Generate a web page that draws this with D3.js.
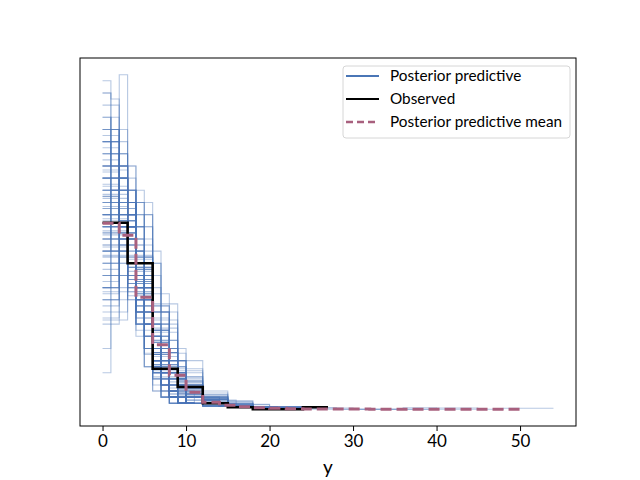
<!DOCTYPE html>
<html lang="en">
<head>
<meta charset="utf-8">
<title>Posterior predictive check</title>
<script src="https://d3js.org/d3.v7.min.js"></script>
<style>
    body { margin: 0; background: #fff; }
    svg { font-family: Lato, "Open Sans", sans-serif; }
    .pp { fill: none; stroke: #4a76b6; stroke-width: 1.1; stroke-opacity: 0.4; }
    .obs { fill: none; stroke: #000; stroke-width: 2.6; }
    .mean { fill: none; stroke: #a8607e; stroke-width: 3; stroke-dasharray: 11 5; }
</style>
</head>
<body>
<svg width="640" height="480"></svg>
<script>
// observed histogram (counts, bins of width 3 starting at 0)
var obsWidth = 3;
var obsCounts = [92, 72, 20, 11, 3, 1, 0, 0, 1];

// posterior predictive draws, counts per bin, grouped by bin width
var ppCountsW1 = [
    [52, 51, 42, 30, 12, 7, 3, 2, 1],
    [46, 44, 55, 28, 14, 7, 3, 2, 1],
    [40, 42, 38, 34, 20, 12, 7, 4, 2, 1],
    [36, 38, 40, 32, 22, 14, 9, 5, 2, 1, 1],
    [44, 40, 36, 30, 20, 14, 8, 5, 2, 1],
    [30, 34, 38, 36, 26, 16, 10, 6, 3, 1],
    [48, 46, 38, 28, 18, 10, 6, 3, 2, 1],
    [34, 36, 34, 30, 24, 18, 12, 6, 3, 2, 1],
    [38, 44, 40, 32, 20, 12, 7, 4, 2, 1],
    [28, 30, 36, 34, 28, 20, 12, 7, 3, 1, 1],
    [42, 38, 34, 30, 22, 14, 9, 6, 3, 1, 1],
    [50, 42, 36, 28, 18, 12, 7, 4, 2, 1],
    [32, 40, 42, 34, 22, 14, 8, 4, 2, 1, 1],
    [26, 32, 34, 38, 30, 18, 10, 6, 3, 2, 1],
    [40, 36, 40, 34, 22, 12, 8, 4, 2, 1, 1],
    [36, 34, 32, 30, 26, 18, 12, 6, 3, 2, 1],
    [44, 48, 40, 30, 16, 10, 6, 3, 2, 1],
    [30, 36, 40, 40, 24, 14, 8, 4, 2, 1, 1],
    [38, 36, 38, 36, 22, 14, 8, 4, 2, 1, 1],
    [24, 30, 36, 36, 32, 20, 12, 6, 2, 1, 1],
    [46, 42, 38, 30, 18, 12, 7, 4, 2, 1],
    [34, 38, 36, 34, 26, 16, 8, 4, 2, 1, 1],
    [22, 26, 30, 32, 34, 30, 14, 6, 3, 2, 1],
    [20, 24, 28, 30, 30, 32, 22, 8, 3, 2, 1],
    [18, 22, 26, 30, 30, 28, 26, 12, 4, 2, 1, 1],
    [6, 14, 22, 30, 36, 32, 24, 16, 10, 5, 3, 1, 1],
    [54, 50, 40, 28, 14, 7, 4, 2, 1],
    [42, 46, 44, 32, 18, 10, 5, 2, 1],
    [28, 34, 30, 32, 30, 22, 12, 6, 3, 2, 1],
    [36, 30, 34, 34, 28, 20, 10, 5, 2, 1],
    [48, 40, 42, 32, 18, 10, 5, 3, 1, 1],
    [20, 28, 34, 36, 30, 24, 14, 8, 3, 2, 1],
    [40, 44, 36, 32, 22, 12, 7, 4, 2, 1],
    [32, 28, 36, 40, 28, 18, 10, 5, 2, 1],
    [44, 36, 30, 34, 24, 14, 9, 5, 2, 1, 1],
    [14, 20, 28, 34, 34, 30, 20, 10, 6, 2, 1, 1],
    [52, 46, 38, 30, 16, 9, 5, 2, 1, 1],
    [26, 36, 38, 36, 26, 18, 10, 6, 2, 1, 1],
    [38, 40, 46, 34, 20, 10, 6, 3, 2, 1],
    [30, 26, 32, 34, 32, 24, 12, 6, 2, 1, 1],
    [10, 18, 26, 32, 34, 34, 24, 12, 6, 3, 1]
];
var ppCountsW2 = [
    [70, 62, 34, 18, 8, 4, 2, 1, 1],
    [64, 60, 38, 20, 10, 4, 2, 1, 1],
    [76, 58, 32, 18, 8, 4, 2, 1, 1],
    [58, 62, 40, 22, 10, 4, 2, 1, 1],
    [66, 56, 36, 22, 10, 5, 3, 1, 1],
    [54, 58, 42, 26, 12, 5, 2, 1],
    [80, 60, 30, 16, 8, 3, 2, 1],
    [62, 64, 38, 20, 9, 4, 2, 1],
    [50, 56, 44, 28, 12, 6, 2, 1, 1],
    [72, 56, 34, 20, 10, 4, 2, 1, 1],
    [60, 52, 40, 26, 12, 6, 2, 1, 1],
    [68, 64, 34, 18, 8, 4, 2, 1, 1],
    [56, 60, 40, 24, 12, 4, 2, 1, 1],
    [74, 62, 32, 16, 8, 4, 2, 1, 1],
    [48, 54, 46, 28, 14, 6, 2, 1, 1],
    [64, 58, 38, 22, 10, 4, 2, 1, 1],
    [70, 66, 32, 16, 8, 4, 2, 1, 1],
    [58, 54, 42, 24, 12, 5, 3, 1, 1],
    [66, 60, 36, 20, 10, 4, 2, 1, 1],
    [52, 60, 42, 26, 12, 4, 2, 1, 1],
    [90, 58, 28, 14, 6, 2, 1, 1],
    [36, 50, 50, 34, 16, 8, 4, 1, 1],
    [84, 62, 30, 14, 6, 2, 1, 1],
    [42, 56, 48, 30, 14, 6, 2, 1, 1],
    [78, 66, 32, 14, 6, 2, 1, 1],
    [30, 44, 52, 38, 20, 9, 4, 2, 1],
    [86, 56, 32, 14, 7, 3, 1, 1],
    [46, 62, 46, 26, 12, 5, 2, 1],
    [40, 48, 50, 34, 16, 7, 3, 1, 1],
    [88, 64, 28, 12, 5, 2, 1],
    [34, 52, 54, 32, 16, 7, 3, 1, 1],
    [82, 60, 32, 16, 6, 2, 1, 1],
    [44, 50, 46, 32, 16, 7, 3, 1, 1],
    [92, 60, 28, 12, 5, 2, 1],
    [38, 54, 50, 32, 14, 7, 3, 1, 1]
];
var ppCountsW3 = [
    [92, 64, 24, 10, 5, 2, 1, 1, 1],
    [84, 66, 28, 12, 5, 2, 1, 1, 1],
    [100, 60, 22, 10, 4, 2, 1, 1],
    [78, 70, 30, 12, 5, 2, 1, 1, 1],
    [88, 62, 28, 12, 5, 3, 1, 1],
    [96, 58, 26, 10, 5, 2, 1, 1, 1],
    [72, 68, 34, 14, 6, 3, 1, 1, 1],
    [86, 64, 28, 12, 5, 2, 1, 1, 1],
    [94, 62, 24, 11, 5, 2, 1, 1],
    [80, 66, 30, 13, 6, 2, 1, 1, 1],
    [90, 60, 28, 12, 5, 2, 1, 1, 1],
    [76, 64, 34, 14, 6, 3, 1, 1, 1],
    [120, 54, 16, 6, 2, 1, 1],
    [54, 76, 42, 16, 7, 3, 1, 1],
    [110, 58, 20, 7, 3, 1, 1],
    [60, 74, 40, 16, 6, 2, 1, 1],
    [104, 62, 22, 8, 2, 1, 1],
    [48, 70, 48, 20, 8, 4, 1, 1],
    [114, 56, 18, 8, 2, 1, 1],
    [66, 72, 38, 15, 6, 2, 1],
    [44, 66, 52, 24, 9, 3, 1, 1],
    [106, 60, 22, 8, 2, 1, 1],
    [58, 70, 44, 18, 6, 2, 1, 1],
    [118, 54, 18, 6, 2, 1, 1]
];
var ppWideWidths = [4, 5, 6];
var ppCountsWide = [
    [120, 52, 16, 6, 3, 1, 1, 0, 0, 1],
    [135, 46, 12, 4, 1, 1, 0, 0, 1],
    [151, 38, 8, 2, 0, 0, 0, 0, 1]
];

// posterior predictive mean (density, bins of width 2 from 0 to 50)
var ppMeanWidth = 2;
var ppMeanDensity = [0.153, 0.143, 0.092, 0.053, 0.028, 0.014, 0.0058, 0.0033, 0.0021,
    0.0012, 0.0008, 0.0005, 0.0003, 0.0003, 0.0002, 0.0002, 0.0001, 0.0001, 0.0001,
    0.0001, 0.0001, 0.0001, 0.0001, 0.0001, 0.0001];

var xTicks = [0, 10, 20, 30, 40, 50];

// turn a histogram into step points: (edge, height) as matplotlib steps-pre
function stepPoints(dens, w) {
    var pts = [[0, dens[0]]];
    dens.forEach(function(d, i) { pts.push([(i + 1) * w, d]); });
    return pts;
}
function toDensity(counts, w) {
    var n = d3.sum(counts);
    return counts.map(c => c / (n * w));
}

var ppLines = [];
ppCountsW1.forEach(c => ppLines.push(stepPoints(toDensity(c, 1), 1)));
ppCountsW2.forEach(c => ppLines.push(stepPoints(toDensity(c, 2), 2)));
ppCountsW3.forEach(c => ppLines.push(stepPoints(toDensity(c, 3), 3)));
ppCountsWide.forEach((c, i) => ppLines.push(stepPoints(toDensity(c, ppWideWidths[i]), ppWideWidths[i])));
var obsLine = stepPoints(toDensity(obsCounts, obsWidth), obsWidth);
var meanLine = stepPoints(ppMeanDensity, ppMeanWidth);

var all = ppLines.concat([obsLine, meanLine]).flat();
var xe = d3.extent(all, d => d[0]), ye = d3.extent(all, d => d[1]);
var xp = (xe[1] - xe[0]) * 0.05, yp = (ye[1] - ye[0]) * 0.05;

var plotLeft = 80, plotRight = 576, plotTop = 58, plotBottom = 426;
var x = d3.scaleLinear().domain([xe[0] - xp, xe[1] + xp]).range([plotLeft, plotRight]);
var y = d3.scaleLinear().domain([ye[0] - yp, ye[1] + yp]).range([plotBottom, plotTop]);

var svg = d3.select("svg");
var line = d3.line().x(d => x(d[0])).y(d => y(d[1])).curve(d3.curveStepBefore);

var g = svg.append("g");
g.selectAll(".pp").data(ppLines).enter().append("path").attr("class", "pp").attr("d", line);
g.append("path").attr("class", "obs").attr("d", line(obsLine));
g.append("path").attr("class", "mean").attr("d", line(meanLine));

// frame
svg.append("rect").attr("x", plotLeft).attr("y", plotTop)
    .attr("width", plotRight - plotLeft).attr("height", plotBottom - plotTop)
    .attr("fill", "none").attr("stroke", "#000").attr("stroke-width", 1);

var xAxis = svg.append("g").attr("transform", "translate(0," + plotBottom + ")")
    .call(d3.axisBottom(x).tickValues(xTicks).tickFormat(d3.format("d")).tickSize(5).tickPadding(4));
xAxis.select(".domain").remove();
xAxis.selectAll("text").attr("font-size", 17).attr("fill", "#000").attr("font-family", "Lato, sans-serif");
xAxis.selectAll("line").attr("stroke", "#000");

svg.append("text").attr("x", (plotLeft + plotRight) / 2).attr("y", 474).attr("text-anchor", "middle")
    .attr("font-size", 19).text("y");

// legend
var legendItems = [
    { label: "Posterior predictive", color: "#4a76b6", dash: null, w: 2 },
    { label: "Observed", color: "#000", dash: null, w: 2 },
    { label: "Posterior predictive mean", color: "#a8607e", dash: "7 4", w: 2.5 }
];
var lg = svg.append("g").attr("transform", "translate(343,66)");
lg.append("rect").attr("width", 227).attr("height", 72).attr("rx", 3)
    .attr("fill", "#fff").attr("fill-opacity", 0.8).attr("stroke", "#d6d6d6");
legendItems.forEach(function(it, i) {
    var yy = 10 + i * 23;
    lg.append("line").attr("x1", 3).attr("x2", 36).attr("y1", yy).attr("y2", yy)
        .attr("stroke", it.color).attr("stroke-width", it.w).attr("stroke-dasharray", it.dash);
    lg.append("text").attr("x", 47).attr("y", yy + 5).attr("font-size", 15.3).text(it.label);
});
</script>
</body>
</html>
